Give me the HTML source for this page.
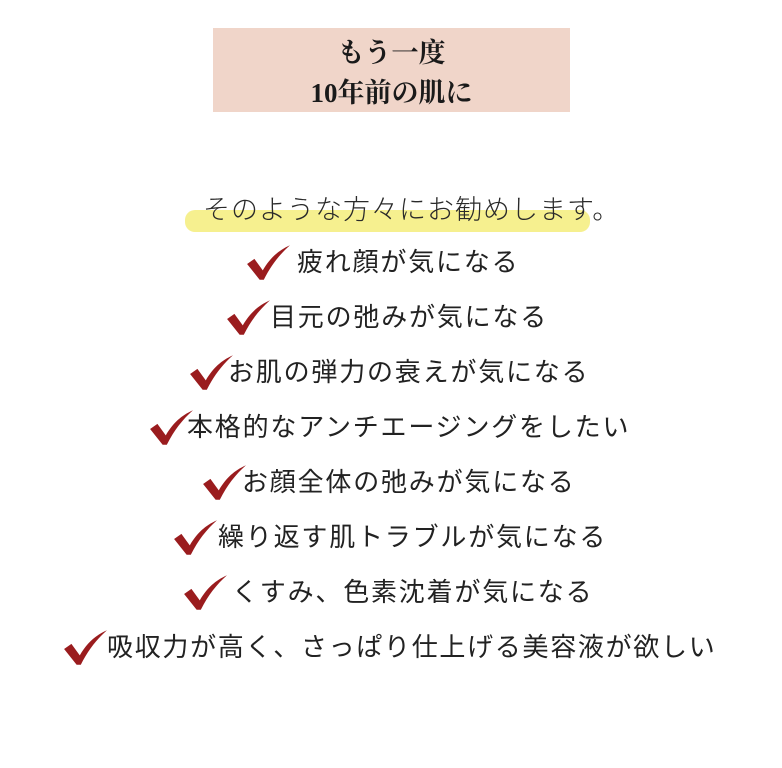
<!DOCTYPE html>
<html><head><meta charset="utf-8"><style>
body{margin:0;width:782px;height:768px;background:#fff;position:relative;overflow:hidden;font-family:"Liberation Sans","Noto Sans CJK JP",sans-serif;color:#222}
.hd{position:absolute;left:213px;top:28px;width:357px;height:84px;background:#f0d5c9}
.hd div{position:absolute;left:0;width:100%;text-align:center;font-family:"Liberation Serif","Noto Serif CJK SC",serif;font-weight:bold;font-size:27px;color:#1a1a1a}
.hl{position:absolute;left:185px;top:210px;width:405px;height:22px;background:#f6f08f;border-radius:10px}
.t{position:absolute;white-space:nowrap;font-size:26px;letter-spacing:1.8px;line-height:30px}
.c{position:absolute;width:46px;height:36px}
</style></head><body>
<div class="hd"><div style="top:3px">もう一度</div><div style="top:43px">10年前の肌に</div></div>
<div class="hl"></div>
<div class="t" style="left:203px;top:195px;font-weight:300;font-size:27px;letter-spacing:1px;color:#2a2a2a">そのような方々にお勧めします。</div>
<svg width="0" height="0" style="position:absolute"><defs><path id="ck" d="M2 18 L9 13 L17 24 C24 12 32 5 43 0 C33 9 25 19 18 33 L14 33 Z" fill="#9a1c1e"/></defs></svg>
<svg class="c" style="left:245px;top:245px" viewBox="0 0 44 34"><use href="#ck"/></svg>
<div class="t" style="left:297px;top:247px">疲れ顔が気になる</div>
<svg class="c" style="left:225px;top:300px" viewBox="0 0 44 34"><use href="#ck"/></svg>
<div class="t" style="left:270px;top:302px">目元の弛みが気になる</div>
<svg class="c" style="left:188px;top:355px" viewBox="0 0 44 34"><use href="#ck"/></svg>
<div class="t" style="left:228px;top:357px">お肌の弾力の衰えが気になる</div>
<svg class="c" style="left:148px;top:410px" viewBox="0 0 44 34"><use href="#ck"/></svg>
<div class="t" style="left:187px;top:412px">本格的なアンチエージングをしたい</div>
<svg class="c" style="left:201px;top:465px" viewBox="0 0 44 34"><use href="#ck"/></svg>
<div class="t" style="left:242px;top:467px">お顔全体の弛みが気になる</div>
<svg class="c" style="left:172px;top:520px" viewBox="0 0 44 34"><use href="#ck"/></svg>
<div class="t" style="left:218px;top:522px">繰り返す肌トラブルが気になる</div>
<svg class="c" style="left:182px;top:575px" viewBox="0 0 44 34"><use href="#ck"/></svg>
<div class="t" style="left:232px;top:577px">くすみ、色素沈着が気になる</div>
<svg class="c" style="left:62px;top:630px" viewBox="0 0 44 34"><use href="#ck"/></svg>
<div class="t" style="left:107px;top:632px;letter-spacing:1.7px">吸収力が高く、さっぱり仕上げる美容液が欲しい</div>
</body></html>
